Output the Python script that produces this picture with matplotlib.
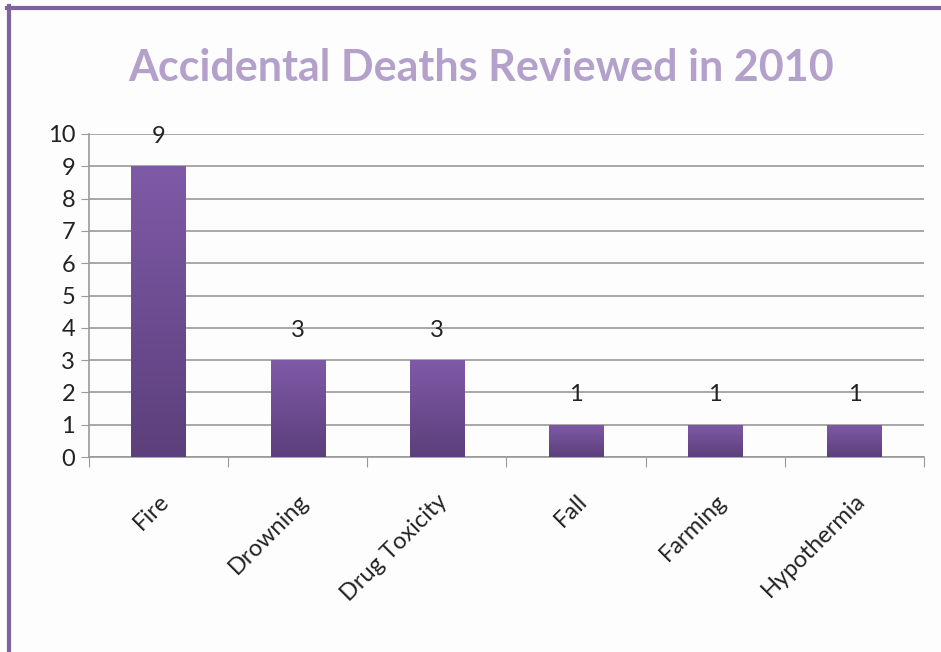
import numpy as np
import matplotlib
matplotlib.use("Agg")
import matplotlib.pyplot as plt
from matplotlib.lines import Line2D

# Chart data
categories = ["Fire", "Drowning", "Drug Toxicity", "Fall", "Farming", "Hypothermia"]
deaths = [9, 3, 3, 1, 1, 1]
y_ticks = list(range(0, 11))

plt.rcParams['font.family'] = ['Lato', 'DejaVu Sans']

fig = plt.figure(figsize=(9.41, 6.52), dpi=100, facecolor="#fdfdfd")
ax = fig.add_axes([89 / 941, 1 - 457 / 652, (924 - 89) / 941, (457 - 134) / 652])
ax.set_facecolor("#fdfdfd")

x = np.arange(len(categories))
width = 0.39

# bars with vertical gradient (light purple top, dark bottom)
grad = np.linspace(0, 1, 256).reshape(-1, 1)
cmap = matplotlib.colors.LinearSegmentedColormap.from_list("purp", ["#5c3f7b", "#7f5aa7"])
bars = ax.bar(x, deaths, width, color="none", zorder=3)
for bar in bars:
    bx, by = bar.get_x(), bar.get_y()
    bw, bh = bar.get_width(), bar.get_height()
    im = ax.imshow(grad, cmap=cmap, origin="lower", aspect="auto",
                   extent=[bx, bx + bw, by, by + bh], zorder=3)
    im.set_clip_path(bar)

for xi, v in zip(x, deaths):
    ax.text(xi, v + 0.93, str(v), ha="center", va="center", fontsize=17, color="#222222", zorder=4)

ax.set_xlim(-0.5, len(categories) - 0.5)
ax.set_ylim(0, 10)
ax.set_yticks(y_ticks)
ax.tick_params(axis="y", labelsize=17, length=6, pad=4, colors="#222222")
ax.yaxis.set_tick_params(color="#999999")
ax.grid(axis="y", color="#999999", linewidth=1.2, zorder=0)
ax.set_axisbelow(True)

# category ticks at boundaries
ax.set_xticks(np.arange(len(categories) + 1) - 0.5)
ax.set_xticklabels([])
ax.tick_params(axis="x", length=7, color="#999999", direction="out")
ax.set_xticks(x, minor=True)
ax.set_xticklabels(categories, minor=True, rotation=45, ha="right",
                   rotation_mode="anchor", fontsize=17, color="#222222")
ax.tick_params(axis="x", which="minor", length=0, pad=24)

for s in ["top", "right"]:
    ax.spines[s].set_visible(False)
ax.spines["left"].set_color("#999999")
ax.spines["bottom"].set_color("#999999")
ax.spines["left"].set_linewidth(1.2)
ax.spines["bottom"].set_linewidth(1.2)

fig.text(481 / 941, 1 - 68 / 652, "Accidental Deaths Reviewed in 2010",
         ha="center", va="center", fontsize=31, fontweight="bold",
         color="#b3a1cc")

# outer frame lines (left and top)
fig.add_artist(Line2D([8.5 / 941, 8.5 / 941], [0, 1 - 6 / 652], transform=fig.transFigure,
                      color="#7f63a1", linewidth=3))
fig.add_artist(Line2D([7 / 941, 1], [1 - 7.5 / 652, 1 - 7.5 / 652], transform=fig.transFigure,
                      color="#7f63a1", linewidth=3))

fig.savefig("out.png", dpi=100, facecolor=fig.get_facecolor())
